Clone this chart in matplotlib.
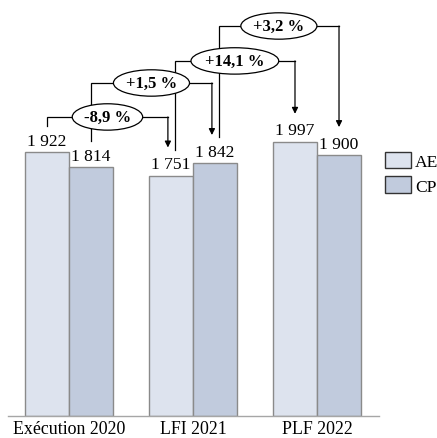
import matplotlib.pyplot as plt
from matplotlib.patches import Patch

plt.rcParams['font.family'] = ['Liberation Serif', 'DejaVu Serif']

categories = ['Exécution 2020', 'LFI 2021', 'PLF 2022']
ae_values = [1922, 1751, 1997]
cp_values = [1814, 1842, 1900]
series_names = ['AE', 'CP']

# connectors: (from group, from series, to group, to series)
links = [(0, 0, 1, 0), (0, 1, 1, 1), (1, 0, 2, 0), (1, 1, 2, 1)]
link_labels = ['-8,9 %', '+1,5 %', '+14,1 %', '+3,2 %']
link_levels = [2179, 2427, 2588, 2843]

ae_color = '#dde3ee'
cp_color = '#c1cbdd'
edge_color = '#8a8a8a'


def fmt_thousands(v):
    return '{:,}'.format(v).replace(',', ' ')


fig = plt.figure(figsize=(4.37, 4.39), dpi=100)
ax = fig.add_axes([8 / 437, 22.5 / 439, 371 / 437, 416.5 / 439])

width = 0.355
x = list(range(len(categories)))
x_ae = [i - width / 2 for i in x]
x_cp = [i + width / 2 for i in x]

ax.bar(x_ae, ae_values, width, color=ae_color, edgecolor=edge_color, lw=1)
ax.bar(x_cp, cp_values, width, color=cp_color, edgecolor=edge_color, lw=1)

# value labels
for xa, v in zip(x_ae, ae_values):
    ax.text(xa, v + 25, fmt_thousands(v), ha='center', va='bottom', fontsize=12.6)
for xc, v in zip(x_cp, cp_values):
    ax.text(xc, v + 25, fmt_thousands(v), ha='center', va='bottom', fontsize=12.6)

# connectors with percentage change
vals = [ae_values, cp_values]
xs = [x_ae, x_cp]
for (g0, s0, g1, s1), label, level in zip(links, link_labels, link_levels):
    xa = xs[s0][g0] + (0.03 if g0 == 1 else 0.0)
    xb = xs[s1][g1] - (0.025 if g1 == 1 else 0.0)
    ya = vals[s0][g0] + 190
    yb = vals[s1][g1] + 205
    ax.plot([xa, xa, xb], [ya, level, level], color='black', lw=0.9,
            solid_joinstyle='miter')
    ax.annotate('', xy=(xb, yb), xytext=(xb, level),
                arrowprops=dict(arrowstyle='-|>', color='black', lw=0.9,
                                mutation_scale=9, shrinkA=0, shrinkB=0))
    ax.text((xa + xb) / 2, level, label,
            ha='center', va='center', fontsize=12, fontweight='bold',
            bbox=dict(boxstyle='ellipse,pad=0.08', fc='white', ec='black', lw=0.9),
            zorder=5)

ax.set_xlim(-0.492, 2.5)
ax.set_ylim(0, 3040)
ax.set_xticks(x)
ax.set_xticklabels(categories, fontsize=12.9)
ax.tick_params(axis='x', length=0, pad=3.5)
ax.set_yticks([])
for side in ['top', 'right', 'left']:
    ax.spines[side].set_visible(False)
ax.spines['bottom'].set_color('#a6a6a6')
ax.spines['bottom'].set_linewidth(1)

handles = [Patch(facecolor=ae_color, edgecolor='#333333', lw=1),
           Patch(facecolor=cp_color, edgecolor='#333333', lw=1)]
fig.legend(handles, series_names, loc='upper left',
           bbox_to_anchor=(373 / 437, 1 - 141 / 439), frameon=False,
           fontsize=12.6, handlelength=1.45, handleheight=1.05,
           handletextpad=0.25, labelspacing=0.35, borderpad=0.2)

fig.savefig('out.png', dpi=100)
